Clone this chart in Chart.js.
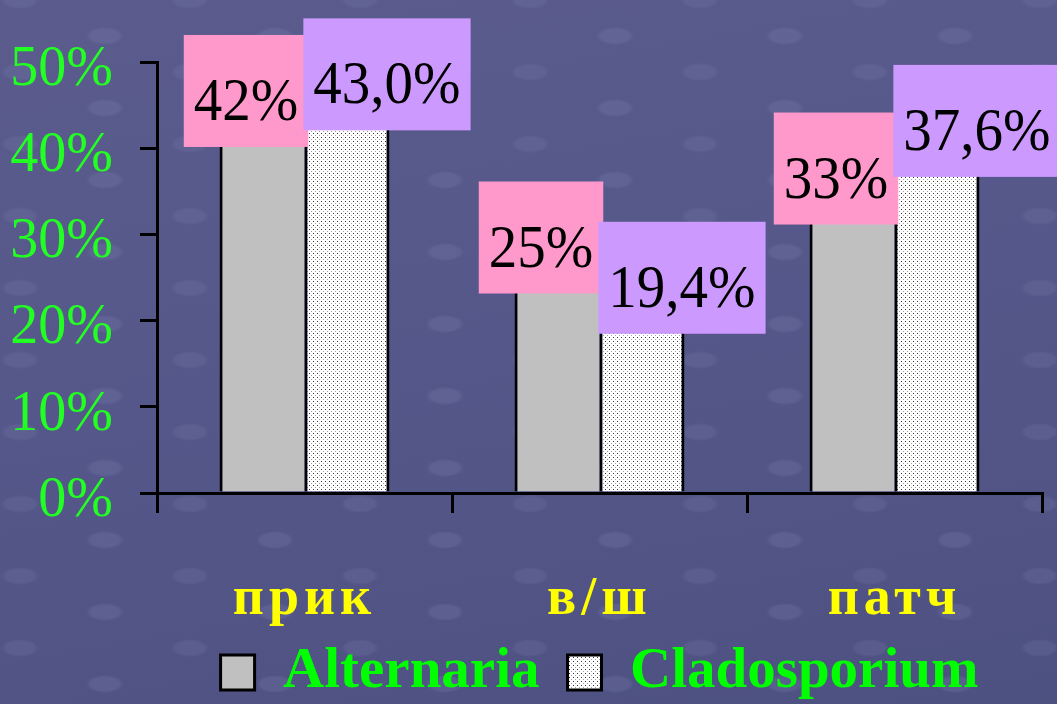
<!DOCTYPE html>
<html>
<head>
<meta charset="utf-8">
<script src="https://cdn.jsdelivr.net/npm/chart.js@4"></script>
<style>
  html, body { margin: 0; padding: 0; }
  body {
    width: 1057px; height: 704px; overflow: hidden;
    background:
      radial-gradient(ellipse 19px 9px at 50% 50%, rgba(118,122,170,0.3) 0, rgba(118,122,170,0.3) 75%, transparent 100%) 20px 0 / 170px 72px,
      radial-gradient(ellipse 19px 9px at 50% 50%, rgba(118,122,170,0.25) 0, rgba(118,122,170,0.25) 75%, transparent 100%) 105px 36px / 170px 72px,
      linear-gradient(170deg, #5b5c8d 0%, #55578a 50%, #4d5180 100%);
  }
  canvas { display: block; }
</style>
</head>
<body>
<canvas id="chart" width="1057" height="704"></canvas>
<script>
var categories = ["прик", "в/ш", "патч"];
var alternaria = [42, 25, 33];
var cladosporium = [43.0, 19.4, 37.6];

var SERIF = '"Liberation Serif", "Times New Roman", serif';

// dotted fill for the second series
function dotPattern() {
  var c = document.createElement("canvas");
  c.width = 4;
  c.height = 4;
  var g = c.getContext("2d");
  g.fillStyle = "#ffffff";
  g.fillRect(0, 0, 4, 4);
  g.fillStyle = "#333333";
  g.fillRect(1, 1, 1, 1);
  g.fillStyle = "#a0a0a0";
  g.fillRect(3, 3, 1, 1);
  return g.createPattern(c, "repeat");
}

var valueBoxes = {
  id: "valueBoxes",
  afterDatasetsDraw: function (chart) {
    var ctx = chart.ctx;
    ctx.save();
    ctx.font = "57px " + SERIF;
    ctx.textAlign = "center";
    ctx.textBaseline = "alphabetic";
    chart.data.datasets.forEach(function (ds, i) {
      var meta = chart.getDatasetMeta(i);
      meta.data.forEach(function (bar, j) {
        var text = ds.format(ds.data[j]);
        var w = ctx.measureText(text).width + 20;
        var h = 112;
        var cx = bar.x + ds.boxShift;
        var bottom = bar.y + ds.boxDrop;
        ctx.fillStyle = ds.boxColor;
        ctx.fillRect(cx - w / 2, bottom - h, w, h);
        ctx.fillStyle = "#000000";
        ctx.save();
        ctx.translate(cx, bottom - 27);
        ctx.scale(1, 1.08);
        ctx.fillText(text, 0, 0);
        ctx.restore();
      });
    });
    ctx.restore();
  },
};

// spaced-out category names, not clipped to the axis box
var spacedLabels = {
  id: "spacedLabels",
  afterLayout: function (chart) {
    var sc = chart.scales.x;
    if (sc._spaced) return;
    sc._spaced = true;
    var base = sc.drawLabels;
    sc._computeLabelArea = function () { return undefined; };
    sc.drawLabels = function (area) {
      this.ctx.save();
      this.ctx.letterSpacing = "5px";
      base.call(this, area);
      this.ctx.restore();
    };
  },
};

new Chart("chart", {
  type: "bar",
  plugins: [valueBoxes, spacedLabels],
  data: {
    labels: categories,
    datasets: [
      {
        label: "Alternaria",
        data: alternaria,
        backgroundColor: "#c0c0c0",
        borderColor: "#000000",
        borderWidth: { left: 3, top: 3, right: 0, bottom: 0 },
        boxColor: "#ff99cc",
        boxShift: -16,
        boxDrop: 16,
        format: function (v) { return v + "%"; },
      },
      {
        label: "Cladosporium",
        data: cladosporium,
        backgroundColor: dotPattern(),
        borderColor: "#000000",
        borderWidth: { left: 3, top: 3, right: 3, bottom: 0 },
        boxColor: "#cc99ff",
        boxShift: 40,
        boxDrop: 8,
        format: function (v) { return v.toFixed(1).replace(".", ",") + "%"; },
      },
    ],
  },
  options: {
    responsive: false,
    animation: false,
    layout: {
      padding: { top: 62, right: 15, bottom: -7, left: 0 },
    },
    categoryPercentage: 0.576,
    barPercentage: 1.0,
    plugins: {
      tooltip: { enabled: false },
      legend: {
        position: "bottom",
        fullSize: false,
        labels: {
          color: "#00ff00",
          font: { family: SERIF, size: 57, weight: "bold" },
          boxWidth: 34,
          boxHeight: 35,
          padding: 28,
          generateLabels: function (chart) {
            var items = Chart.defaults.plugins.legend.labels.generateLabels(chart);
            items.forEach(function (it) {
              it.lineWidth = 3;
              it.strokeStyle = "#000000";
            });
            return items;
          },
        },
      },
    },
    scales: {
      y: {
        min: 0,
        max: 50,
        afterFit: function (scale) { scale.width = 157; },
        border: { display: true, color: "#000000", width: 3 },
        grid: {
          drawOnChartArea: false,
          drawTicks: true,
          tickLength: 17,
          color: "#000000",
          lineWidth: 3,
        },
        ticks: {
          stepSize: 10,
          padding: 27,
          labelOffset: 8,
          color: "#22ff22",
          font: { family: SERIF, size: 56 },
          callback: function (v) { return v + "%"; },
        },
      },
      x: {
        afterFit: function (scale) { scale.height = 123; },
        border: { display: true, color: "#000000", width: 3 },
        grid: {
          drawOnChartArea: false,
          drawTicks: true,
          tickLength: 20,
          color: "#000000",
          lineWidth: 3,
        },
        ticks: {
          padding: 55,
          color: "#ffff00",
          font: { family: SERIF, size: 54, weight: "bold" },
        },
      },
    },
  },
});
</script>
</body>
</html>
